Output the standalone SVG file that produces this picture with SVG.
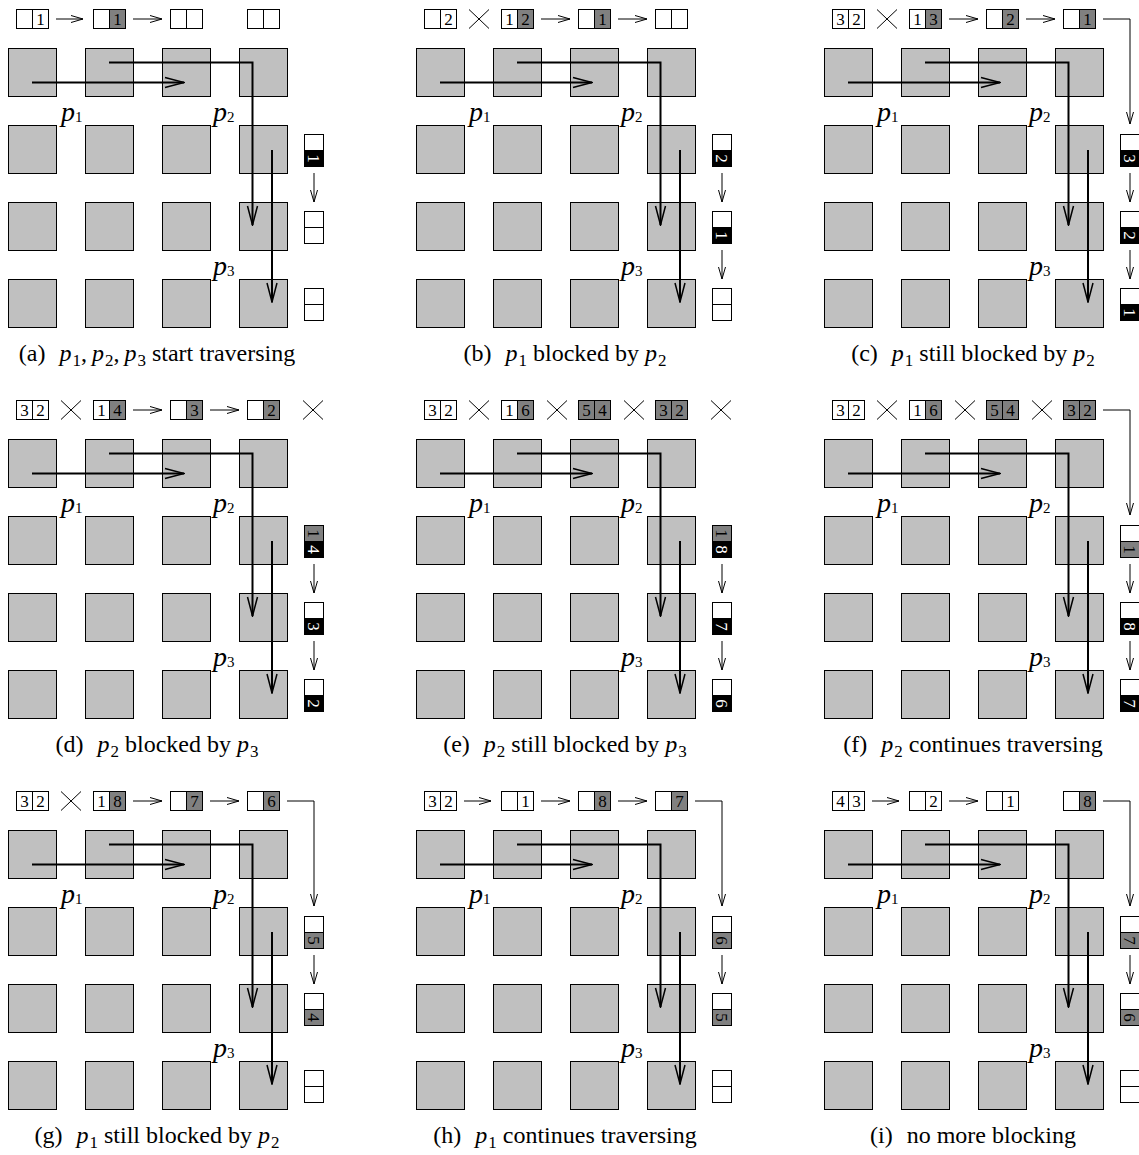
<svg xmlns="http://www.w3.org/2000/svg" xmlns:xlink="http://www.w3.org/1999/xlink" width="1139" height="1155" viewBox="0 0 1139 1155">
<style>
.sq{fill:#c0c0c0;stroke:#000;stroke-width:1}
.w{fill:#fff;stroke:#000;stroke-width:1}
.g{fill:#808080;stroke:#000;stroke-width:1}
.k{fill:#000;stroke:#000;stroke-width:1}
.d{font-family:"Liberation Serif","Times New Roman",serif;font-size:17px;text-anchor:middle;fill:#000}
.dw{fill:#fff}
.th{fill:none;stroke:#000;stroke-width:1}
.ta{fill:none;stroke:#000;stroke-width:1;marker-end:url(#ht)}
.bp{fill:none;stroke:#000;stroke-width:2;marker-end:url(#hb)}
.pl{font-family:"Liberation Serif","Times New Roman",serif;font-size:28px}
.it{font-style:italic}
.sb{font-size:17px}
.sl{font-size:15px}
.cap{font-family:"Liberation Serif","Times New Roman",serif;font-size:24px;text-anchor:middle}
</style>
<defs>
<marker id="ht" markerUnits="userSpaceOnUse" markerWidth="14" markerHeight="10" viewBox="-13 -5 14 10" refX="0" refY="0" orient="auto"><path d="M-12,-3.5 L0,0 L-12,3.5" fill="none" stroke="#000" stroke-width="1"/></marker>
<marker id="hb" markerUnits="userSpaceOnUse" markerWidth="22" markerHeight="14" viewBox="-21 -7 22 14" refX="0" refY="0" orient="auto"><path d="M-19,-5 L0,0 L-19,5" fill="none" stroke="#000" stroke-width="1.5"/></marker>
<g id="grid">
<g class="cells">
<rect class="sq" x="8.5" y="48.5" width="48" height="48"/><rect class="sq" x="85.5" y="48.5" width="48" height="48"/><rect class="sq" x="162.5" y="48.5" width="48" height="48"/><rect class="sq" x="239.5" y="48.5" width="48" height="48"/>
<rect class="sq" x="8.5" y="125.5" width="48" height="48"/><rect class="sq" x="85.5" y="125.5" width="48" height="48"/><rect class="sq" x="162.5" y="125.5" width="48" height="48"/><rect class="sq" x="239.5" y="125.5" width="48" height="48"/>
<rect class="sq" x="8.5" y="202.5" width="48" height="48"/><rect class="sq" x="85.5" y="202.5" width="48" height="48"/><rect class="sq" x="162.5" y="202.5" width="48" height="48"/><rect class="sq" x="239.5" y="202.5" width="48" height="48"/>
<rect class="sq" x="8.5" y="279.5" width="48" height="48"/><rect class="sq" x="85.5" y="279.5" width="48" height="48"/><rect class="sq" x="162.5" y="279.5" width="48" height="48"/><rect class="sq" x="239.5" y="279.5" width="48" height="48"/>
</g>
<g class="paths">
<path class="bp" d="M32,82.5 H184"/>
<path class="bp" d="M109,62.5 H252.5 V225"/>
<path class="bp" d="M272,150 V302"/>
</g>
<text class="pl" x="61" y="121"><tspan class="it">p</tspan><tspan class="sl" dy="1">1</tspan></text>
<text class="pl" x="213" y="121"><tspan class="it">p</tspan><tspan class="sl" dy="1">2</tspan></text>
<text class="pl" x="213" y="275"><tspan class="it">p</tspan><tspan class="sl" dy="1">3</tspan></text>
</g>
</defs>

<!-- (a) -->
<g id="panel-a" transform="translate(0,0)">
<use href="#grid" xlink:href="#grid"/>
<g id="a-t1" transform="translate(16.5,9.5)"><rect class="w" width="16" height="19"/><rect class="w" x="16" width="16" height="19"/><text class="d" x="24" y="15.5">1</text></g>
<g id="a-t2" transform="translate(93.5,9.5)"><rect class="w" width="16" height="19"/><rect class="g" x="16" width="16" height="19"/><text class="d" x="24" y="15.5">1</text></g>
<g id="a-t3" transform="translate(170.5,9.5)"><rect class="w" width="16" height="19"/><rect class="w" x="16" width="16" height="19"/></g>
<g id="a-t4" transform="translate(247.5,9.5)"><rect class="w" width="16" height="19"/><rect class="w" x="16" width="16" height="19"/></g>
<g id="a-v1" transform="translate(323.5,134.5) rotate(90)"><rect class="w" width="16" height="19"/><rect class="k" x="16" width="16" height="19"/><text class="d dw" x="24" y="15.5">1</text></g>
<g id="a-v2" transform="translate(323.5,211.5) rotate(90)"><rect class="w" width="16" height="19"/><rect class="w" x="16" width="16" height="19"/></g>
<g id="a-v3" transform="translate(323.5,288.5) rotate(90)"><rect class="w" width="16" height="19"/><rect class="w" x="16" width="16" height="19"/></g>
<g id="a-conn">
<path class="ta" d="M56,19 H83"/><path class="ta" d="M133,19 H162"/>
<path class="ta" d="M314,173 V202"/>
</g>
<text class="cap" x="157" y="361">(a)<tspan dx="14" class="it">p</tspan><tspan class="sb" dx="1" dy="5">1</tspan><tspan dy="-5">,</tspan><tspan dx="5" class="it">p</tspan><tspan class="sb" dx="1" dy="5">2</tspan><tspan dy="-5">,</tspan><tspan dx="5" class="it">p</tspan><tspan class="sb" dx="1" dy="5">3</tspan><tspan dy="-5"> start traversing</tspan></text>
</g>

<!-- (b) -->
<g id="panel-b" transform="translate(408,0)">
<use href="#grid" xlink:href="#grid"/>
<g id="b-t1" transform="translate(16.5,9.5)"><rect class="w" width="16" height="19"/><rect class="w" x="16" width="16" height="19"/><text class="d" x="24" y="15.5">2</text></g>
<g id="b-t2" transform="translate(93.5,9.5)"><rect class="w" width="16" height="19"/><rect class="g" x="16" width="16" height="19"/><text class="d" x="8" y="15.5">1</text><text class="d" x="24" y="15.5">2</text></g>
<g id="b-t3" transform="translate(170.5,9.5)"><rect class="w" width="16" height="19"/><rect class="g" x="16" width="16" height="19"/><text class="d" x="24" y="15.5">1</text></g>
<g id="b-t4" transform="translate(247.5,9.5)"><rect class="w" width="16" height="19"/><rect class="w" x="16" width="16" height="19"/></g>
<g id="b-v1" transform="translate(323.5,134.5) rotate(90)"><rect class="w" width="16" height="19"/><rect class="k" x="16" width="16" height="19"/><text class="d dw" x="24" y="15.5">2</text></g>
<g id="b-v2" transform="translate(323.5,211.5) rotate(90)"><rect class="w" width="16" height="19"/><rect class="k" x="16" width="16" height="19"/><text class="d dw" x="24" y="15.5">1</text></g>
<g id="b-v3" transform="translate(323.5,288.5) rotate(90)"><rect class="w" width="16" height="19"/><rect class="w" x="16" width="16" height="19"/></g>
<g id="b-conn">
<path class="th" d="M61,9.5 L81,28.5 M81,9.5 L61,28.5"/>
<path class="ta" d="M133,19 H162"/><path class="ta" d="M210,19 H239"/>
<path class="ta" d="M314,173 V202"/><path class="ta" d="M314,250 V279"/>
</g>
<text class="cap" x="157" y="361">(b)<tspan dx="14" class="it">p</tspan><tspan class="sb" dx="1" dy="5">1</tspan><tspan dy="-5"> blocked by </tspan><tspan class="it">p</tspan><tspan class="sb" dx="1" dy="5">2</tspan></text>
</g>

<!-- (c) -->
<g id="panel-c" transform="translate(816,0)">
<use href="#grid" xlink:href="#grid"/>
<g id="c-t1" transform="translate(16.5,9.5)"><rect class="w" width="16" height="19"/><rect class="w" x="16" width="16" height="19"/><text class="d" x="8" y="15.5">3</text><text class="d" x="24" y="15.5">2</text></g>
<g id="c-t2" transform="translate(93.5,9.5)"><rect class="w" width="16" height="19"/><rect class="g" x="16" width="16" height="19"/><text class="d" x="8" y="15.5">1</text><text class="d" x="24" y="15.5">3</text></g>
<g id="c-t3" transform="translate(170.5,9.5)"><rect class="w" width="16" height="19"/><rect class="g" x="16" width="16" height="19"/><text class="d" x="24" y="15.5">2</text></g>
<g id="c-t4" transform="translate(247.5,9.5)"><rect class="w" width="16" height="19"/><rect class="g" x="16" width="16" height="19"/><text class="d" x="24" y="15.5">1</text></g>
<g id="c-v1" transform="translate(323.5,134.5) rotate(90)"><rect class="w" width="16" height="19"/><rect class="k" x="16" width="16" height="19"/><text class="d dw" x="24" y="15.5">3</text></g>
<g id="c-v2" transform="translate(323.5,211.5) rotate(90)"><rect class="w" width="16" height="19"/><rect class="k" x="16" width="16" height="19"/><text class="d dw" x="24" y="15.5">2</text></g>
<g id="c-v3" transform="translate(323.5,288.5) rotate(90)"><rect class="w" width="16" height="19"/><rect class="k" x="16" width="16" height="19"/><text class="d dw" x="24" y="15.5">1</text></g>
<g id="c-conn">
<path class="th" d="M61,9.5 L81,28.5 M81,9.5 L61,28.5"/>
<path class="ta" d="M133,19 H162"/><path class="ta" d="M210,19 H239"/>
<path class="ta" d="M287,19 H314 V124"/>
<path class="ta" d="M314,173 V202"/><path class="ta" d="M314,250 V279"/>
</g>
<text class="cap" x="157" y="361">(c)<tspan dx="14" class="it">p</tspan><tspan class="sb" dx="1" dy="5">1</tspan><tspan dy="-5"> still blocked by </tspan><tspan class="it">p</tspan><tspan class="sb" dx="1" dy="5">2</tspan></text>
</g>

<!-- (d) -->
<g id="panel-d" transform="translate(0,391)">
<use href="#grid" xlink:href="#grid"/>
<g id="d-t1" transform="translate(16.5,9.5)"><rect class="w" width="16" height="19"/><rect class="w" x="16" width="16" height="19"/><text class="d" x="8" y="15.5">3</text><text class="d" x="24" y="15.5">2</text></g>
<g id="d-t2" transform="translate(93.5,9.5)"><rect class="w" width="16" height="19"/><rect class="g" x="16" width="16" height="19"/><text class="d" x="8" y="15.5">1</text><text class="d" x="24" y="15.5">4</text></g>
<g id="d-t3" transform="translate(170.5,9.5)"><rect class="w" width="16" height="19"/><rect class="g" x="16" width="16" height="19"/><text class="d" x="24" y="15.5">3</text></g>
<g id="d-t4" transform="translate(247.5,9.5)"><rect class="w" width="16" height="19"/><rect class="g" x="16" width="16" height="19"/><text class="d" x="24" y="15.5">2</text></g>
<g id="d-v1" transform="translate(323.5,134.5) rotate(90)"><rect class="g" width="16" height="19"/><rect class="k" x="16" width="16" height="19"/><text class="d" x="8" y="15.5">1</text><text class="d dw" x="24" y="15.5">4</text></g>
<g id="d-v2" transform="translate(323.5,211.5) rotate(90)"><rect class="w" width="16" height="19"/><rect class="k" x="16" width="16" height="19"/><text class="d dw" x="24" y="15.5">3</text></g>
<g id="d-v3" transform="translate(323.5,288.5) rotate(90)"><rect class="w" width="16" height="19"/><rect class="k" x="16" width="16" height="19"/><text class="d dw" x="24" y="15.5">2</text></g>
<g id="d-conn">
<path class="th" d="M61,9.5 L81,28.5 M81,9.5 L61,28.5"/>
<path class="ta" d="M133,19 H162"/><path class="ta" d="M210,19 H239"/>
<path class="th" d="M303,9.5 L323,28.5 M323,9.5 L303,28.5"/>
<path class="ta" d="M314,173 V202"/><path class="ta" d="M314,250 V279"/>
</g>
<text class="cap" x="157" y="361">(d)<tspan dx="14" class="it">p</tspan><tspan class="sb" dx="1" dy="5">2</tspan><tspan dy="-5"> blocked by </tspan><tspan class="it">p</tspan><tspan class="sb" dx="1" dy="5">3</tspan></text>
</g>

<!-- (e) -->
<g id="panel-e" transform="translate(408,391)">
<use href="#grid" xlink:href="#grid"/>
<g id="e-t1" transform="translate(16.5,9.5)"><rect class="w" width="16" height="19"/><rect class="w" x="16" width="16" height="19"/><text class="d" x="8" y="15.5">3</text><text class="d" x="24" y="15.5">2</text></g>
<g id="e-t2" transform="translate(93.5,9.5)"><rect class="w" width="16" height="19"/><rect class="g" x="16" width="16" height="19"/><text class="d" x="8" y="15.5">1</text><text class="d" x="24" y="15.5">6</text></g>
<g id="e-t3" transform="translate(170.5,9.5)"><rect class="g" width="16" height="19"/><rect class="g" x="16" width="16" height="19"/><text class="d" x="8" y="15.5">5</text><text class="d" x="24" y="15.5">4</text></g>
<g id="e-t4" transform="translate(247.5,9.5)"><rect class="g" width="16" height="19"/><rect class="g" x="16" width="16" height="19"/><text class="d" x="8" y="15.5">3</text><text class="d" x="24" y="15.5">2</text></g>
<g id="e-v1" transform="translate(323.5,134.5) rotate(90)"><rect class="g" width="16" height="19"/><rect class="k" x="16" width="16" height="19"/><text class="d" x="8" y="15.5">1</text><text class="d dw" x="24" y="15.5">8</text></g>
<g id="e-v2" transform="translate(323.5,211.5) rotate(90)"><rect class="w" width="16" height="19"/><rect class="k" x="16" width="16" height="19"/><text class="d dw" x="24" y="15.5">7</text></g>
<g id="e-v3" transform="translate(323.5,288.5) rotate(90)"><rect class="w" width="16" height="19"/><rect class="k" x="16" width="16" height="19"/><text class="d dw" x="24" y="15.5">6</text></g>
<g id="e-conn">
<path class="th" d="M61,9.5 L81,28.5 M81,9.5 L61,28.5"/>
<path class="th" d="M139,9.5 L159,28.5 M159,9.5 L139,28.5"/>
<path class="th" d="M216,9.5 L236,28.5 M236,9.5 L216,28.5"/>
<path class="th" d="M303,9.5 L323,28.5 M323,9.5 L303,28.5"/>
<path class="ta" d="M314,173 V202"/><path class="ta" d="M314,250 V279"/>
</g>
<text class="cap" x="157" y="361">(e)<tspan dx="14" class="it">p</tspan><tspan class="sb" dx="1" dy="5">2</tspan><tspan dy="-5"> still blocked by </tspan><tspan class="it">p</tspan><tspan class="sb" dx="1" dy="5">3</tspan></text>
</g>

<!-- (f) -->
<g id="panel-f" transform="translate(816,391)">
<use href="#grid" xlink:href="#grid"/>
<g id="f-t1" transform="translate(16.5,9.5)"><rect class="w" width="16" height="19"/><rect class="w" x="16" width="16" height="19"/><text class="d" x="8" y="15.5">3</text><text class="d" x="24" y="15.5">2</text></g>
<g id="f-t2" transform="translate(93.5,9.5)"><rect class="w" width="16" height="19"/><rect class="g" x="16" width="16" height="19"/><text class="d" x="8" y="15.5">1</text><text class="d" x="24" y="15.5">6</text></g>
<g id="f-t3" transform="translate(170.5,9.5)"><rect class="g" width="16" height="19"/><rect class="g" x="16" width="16" height="19"/><text class="d" x="8" y="15.5">5</text><text class="d" x="24" y="15.5">4</text></g>
<g id="f-t4" transform="translate(247.5,9.5)"><rect class="g" width="16" height="19"/><rect class="g" x="16" width="16" height="19"/><text class="d" x="8" y="15.5">3</text><text class="d" x="24" y="15.5">2</text></g>
<g id="f-v1" transform="translate(323.5,134.5) rotate(90)"><rect class="w" width="16" height="19"/><rect class="g" x="16" width="16" height="19"/><text class="d" x="24" y="15.5">1</text></g>
<g id="f-v2" transform="translate(323.5,211.5) rotate(90)"><rect class="w" width="16" height="19"/><rect class="k" x="16" width="16" height="19"/><text class="d dw" x="24" y="15.5">8</text></g>
<g id="f-v3" transform="translate(323.5,288.5) rotate(90)"><rect class="w" width="16" height="19"/><rect class="k" x="16" width="16" height="19"/><text class="d dw" x="24" y="15.5">7</text></g>
<g id="f-conn">
<path class="th" d="M61,9.5 L81,28.5 M81,9.5 L61,28.5"/>
<path class="th" d="M139,9.5 L159,28.5 M159,9.5 L139,28.5"/>
<path class="th" d="M216,9.5 L236,28.5 M236,9.5 L216,28.5"/>
<path class="ta" d="M287,19 H314 V124"/>
<path class="ta" d="M314,173 V202"/><path class="ta" d="M314,250 V279"/>
</g>
<text class="cap" x="157" y="361">(f)<tspan dx="14" class="it">p</tspan><tspan class="sb" dx="1" dy="5">2</tspan><tspan dy="-5"> continues traversing</tspan></text>
</g>

<!-- (g) -->
<g id="panel-g" transform="translate(0,782)">
<use href="#grid" xlink:href="#grid"/>
<g id="g-t1" transform="translate(16.5,9.5)"><rect class="w" width="16" height="19"/><rect class="w" x="16" width="16" height="19"/><text class="d" x="8" y="15.5">3</text><text class="d" x="24" y="15.5">2</text></g>
<g id="g-t2" transform="translate(93.5,9.5)"><rect class="w" width="16" height="19"/><rect class="g" x="16" width="16" height="19"/><text class="d" x="8" y="15.5">1</text><text class="d" x="24" y="15.5">8</text></g>
<g id="g-t3" transform="translate(170.5,9.5)"><rect class="w" width="16" height="19"/><rect class="g" x="16" width="16" height="19"/><text class="d" x="24" y="15.5">7</text></g>
<g id="g-t4" transform="translate(247.5,9.5)"><rect class="w" width="16" height="19"/><rect class="g" x="16" width="16" height="19"/><text class="d" x="24" y="15.5">6</text></g>
<g id="g-v1" transform="translate(323.5,134.5) rotate(90)"><rect class="w" width="16" height="19"/><rect class="g" x="16" width="16" height="19"/><text class="d" x="24" y="15.5">5</text></g>
<g id="g-v2" transform="translate(323.5,211.5) rotate(90)"><rect class="w" width="16" height="19"/><rect class="g" x="16" width="16" height="19"/><text class="d" x="24" y="15.5">4</text></g>
<g id="g-v3" transform="translate(323.5,288.5) rotate(90)"><rect class="w" width="16" height="19"/><rect class="w" x="16" width="16" height="19"/></g>
<g id="g-conn">
<path class="th" d="M61,9.5 L81,28.5 M81,9.5 L61,28.5"/>
<path class="ta" d="M133,19 H162"/><path class="ta" d="M210,19 H239"/>
<path class="ta" d="M287,19 H314 V124"/>
<path class="ta" d="M314,173 V202"/>
</g>
<text class="cap" x="157" y="361">(g)<tspan dx="14" class="it">p</tspan><tspan class="sb" dx="1" dy="5">1</tspan><tspan dy="-5"> still blocked by </tspan><tspan class="it">p</tspan><tspan class="sb" dx="1" dy="5">2</tspan></text>
</g>

<!-- (h) -->
<g id="panel-h" transform="translate(408,782)">
<use href="#grid" xlink:href="#grid"/>
<g id="h-t1" transform="translate(16.5,9.5)"><rect class="w" width="16" height="19"/><rect class="w" x="16" width="16" height="19"/><text class="d" x="8" y="15.5">3</text><text class="d" x="24" y="15.5">2</text></g>
<g id="h-t2" transform="translate(93.5,9.5)"><rect class="w" width="16" height="19"/><rect class="w" x="16" width="16" height="19"/><text class="d" x="24" y="15.5">1</text></g>
<g id="h-t3" transform="translate(170.5,9.5)"><rect class="w" width="16" height="19"/><rect class="g" x="16" width="16" height="19"/><text class="d" x="24" y="15.5">8</text></g>
<g id="h-t4" transform="translate(247.5,9.5)"><rect class="w" width="16" height="19"/><rect class="g" x="16" width="16" height="19"/><text class="d" x="24" y="15.5">7</text></g>
<g id="h-v1" transform="translate(323.5,134.5) rotate(90)"><rect class="w" width="16" height="19"/><rect class="g" x="16" width="16" height="19"/><text class="d" x="24" y="15.5">6</text></g>
<g id="h-v2" transform="translate(323.5,211.5) rotate(90)"><rect class="w" width="16" height="19"/><rect class="g" x="16" width="16" height="19"/><text class="d" x="24" y="15.5">5</text></g>
<g id="h-v3" transform="translate(323.5,288.5) rotate(90)"><rect class="w" width="16" height="19"/><rect class="w" x="16" width="16" height="19"/></g>
<g id="h-conn">
<path class="ta" d="M56,19 H83"/><path class="ta" d="M133,19 H162"/><path class="ta" d="M210,19 H239"/>
<path class="ta" d="M287,19 H314 V124"/>
<path class="ta" d="M314,173 V202"/>
</g>
<text class="cap" x="157" y="361">(h)<tspan dx="14" class="it">p</tspan><tspan class="sb" dx="1" dy="5">1</tspan><tspan dy="-5"> continues traversing</tspan></text>
</g>

<!-- (i) -->
<g id="panel-i" transform="translate(816,782)">
<use href="#grid" xlink:href="#grid"/>
<g id="i-t1" transform="translate(16.5,9.5)"><rect class="w" width="16" height="19"/><rect class="w" x="16" width="16" height="19"/><text class="d" x="8" y="15.5">4</text><text class="d" x="24" y="15.5">3</text></g>
<g id="i-t2" transform="translate(93.5,9.5)"><rect class="w" width="16" height="19"/><rect class="w" x="16" width="16" height="19"/><text class="d" x="24" y="15.5">2</text></g>
<g id="i-t3" transform="translate(170.5,9.5)"><rect class="w" width="16" height="19"/><rect class="w" x="16" width="16" height="19"/><text class="d" x="24" y="15.5">1</text></g>
<g id="i-t4" transform="translate(247.5,9.5)"><rect class="w" width="16" height="19"/><rect class="g" x="16" width="16" height="19"/><text class="d" x="24" y="15.5">8</text></g>
<g id="i-v1" transform="translate(323.5,134.5) rotate(90)"><rect class="w" width="16" height="19"/><rect class="g" x="16" width="16" height="19"/><text class="d" x="24" y="15.5">7</text></g>
<g id="i-v2" transform="translate(323.5,211.5) rotate(90)"><rect class="w" width="16" height="19"/><rect class="g" x="16" width="16" height="19"/><text class="d" x="24" y="15.5">6</text></g>
<g id="i-v3" transform="translate(323.5,288.5) rotate(90)"><rect class="w" width="16" height="19"/><rect class="w" x="16" width="16" height="19"/></g>
<g id="i-conn">
<path class="ta" d="M56,19 H83"/><path class="ta" d="M133,19 H162"/>
<path class="ta" d="M287,19 H314 V124"/>
<path class="ta" d="M314,173 V202"/>
</g>
<text class="cap" x="157" y="361">(i)<tspan dx="14">no more blocking</tspan></text>
</g>
</svg>
